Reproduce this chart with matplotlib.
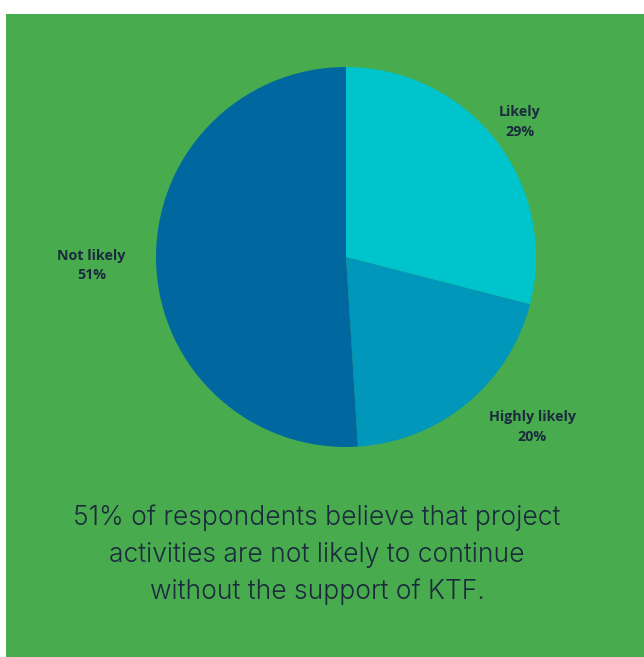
import matplotlib
matplotlib.use("Agg")
import matplotlib.pyplot as plt
from matplotlib.patches import Rectangle

# Survey responses: likelihood of project activities continuing without KTF support
categories = ["Likely", "Highly likely", "Not likely"]
shares = [29, 20, 51]
colors = ["#00C4CC", "#0097BA", "#00689E"]

# label anchor positions in pie units (relative to centre, radius = 1)
label_pos = {
    "Likely": (0.915, 0.71),
    "Highly likely": (0.98, -0.895),
    "Not likely": (-1.34, -0.045),
}

caption = ("51% of respondents believe that project\n"
           "activities are not likely to continue\n"
           "without the support of KTF.")

W, H = 644, 657
fig = plt.figure(figsize=(W / 100, H / 100), dpi=100)
fig.patch.set_facecolor("white")

# green panel behind everything
bg = fig.add_axes([0, 0, 1, 1], zorder=0)
bg.set_xlim(0, W)
bg.set_ylim(H, 0)
bg.add_patch(Rectangle((6, 14), W - 6, H - 14, facecolor="#48AC4F",
                       edgecolor="none"))
bg.axis("off")

cx, cy, r = 346, 257, 190
ax = fig.add_axes([(cx - r) / W, (H - cy - r) / H, 2 * r / W, 2 * r / H],
                  zorder=1)
ax.pie(shares, colors=colors, startangle=90, counterclock=False,
       radius=1, wedgeprops=dict(linewidth=0))
ax.set_xlim(-1, 1)
ax.set_ylim(-1, 1)
ax.set_aspect("auto")
ax.axis("off")

text_color = "#1B2A3C"
for cat, val in zip(categories, shares):
    x, y = label_pos[cat]
    ax.text(x, y, f"{cat}\n{val}%", ha="center", va="center",
            fontsize=10.3, fontweight="bold", color=text_color,
            family="Open Sans", linespacing=1.5, clip_on=False)

fig.text(317 / W, 1 - 555 / H, caption, ha="center", va="center",
         fontsize=19, color=text_color, family="Inter", fontweight=300,
         linespacing=1.53, zorder=2)

fig.savefig("out.png", dpi=100, facecolor=fig.get_facecolor())
